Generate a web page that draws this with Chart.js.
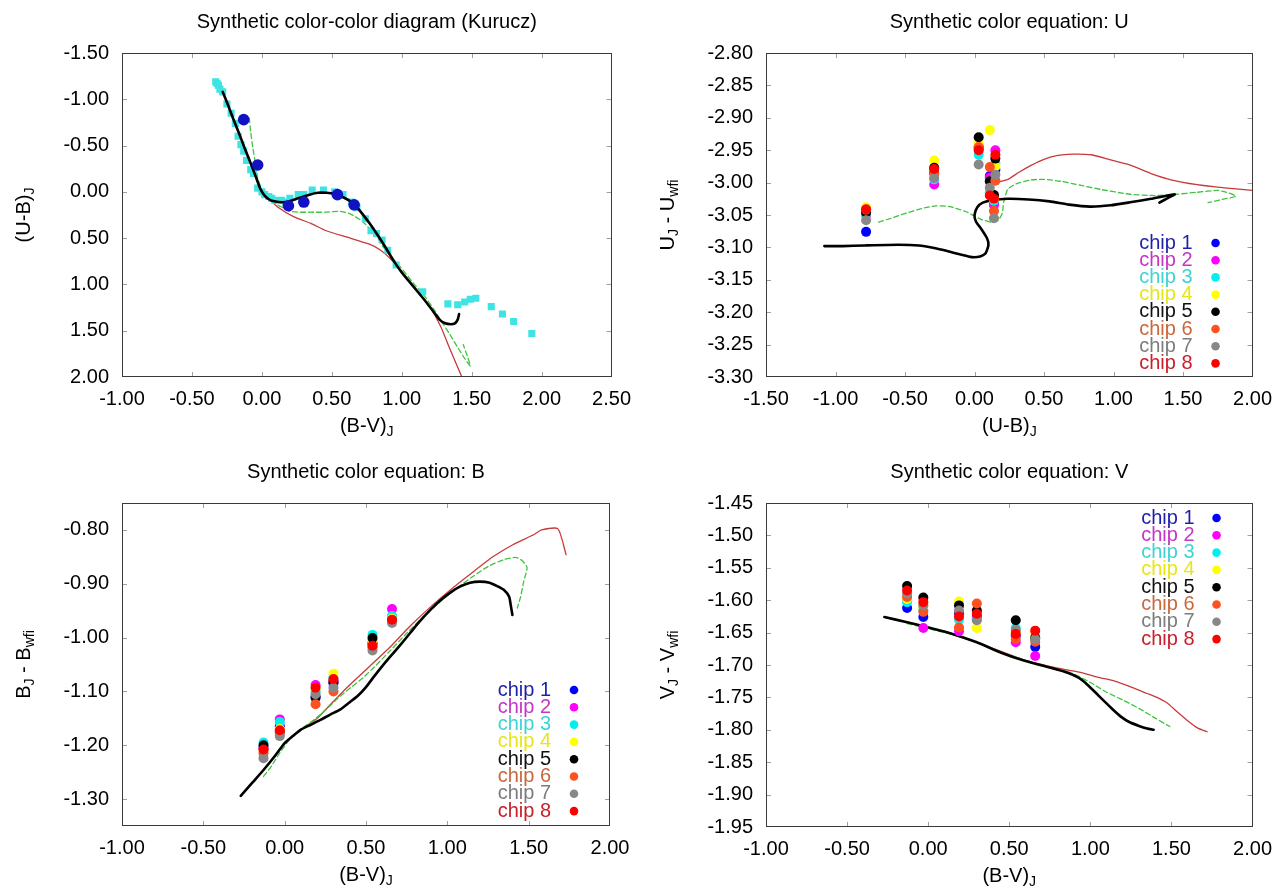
<!DOCTYPE html>
<html><head><meta charset="utf-8">
<script src="https://cdn.jsdelivr.net/npm/chart.js@4.4.1/dist/chart.umd.min.js"></script>
<style>
html,body{margin:0;padding:0;background:#fff;}
body{width:1282px;height:895px;position:relative;overflow:hidden;}
canvas{position:absolute;display:block;}
</style></head><body>
<canvas id="c1" width="641" height="447" style="left:0;top:0"></canvas>
<canvas id="c2" width="641" height="447" style="left:641px;top:0"></canvas>
<canvas id="c3" width="641" height="445" style="left:0;top:450px"></canvas>
<canvas id="c4" width="641" height="445" style="left:641px;top:450px"></canvas>
<script>
// ---------- tick values ----------
const X1_TICKS = [-1.0,-0.5,0.0,0.5,1.0,1.5,2.0,2.5];
const Y1_TICKS = [-1.5,-1.0,-0.5,0.0,0.5,1.0,1.5,2.0];
const X2_TICKS = [-1.5,-1.0,-0.5,0.0,0.5,1.0,1.5,2.0];
const Y2_TICKS = [-3.30,-3.25,-3.20,-3.15,-3.10,-3.05,-3.00,-2.95,-2.90,-2.85,-2.80];
const X3_TICKS = [-1.0,-0.5,0.0,0.5,1.0,1.5,2.0];
const Y3_TICKS = [-1.30,-1.20,-1.10,-1.00,-0.90,-0.80];
const X4_TICKS = [-1.0,-0.5,0.0,0.5,1.0,1.5,2.0];
const Y4_TICKS = [-1.95,-1.90,-1.85,-1.80,-1.75,-1.70,-1.65,-1.60,-1.55,-1.50,-1.45];

// ---------- chips ----------
const CHIP_NAMES = ['chip 1','chip 2','chip 3','chip 4','chip 5','chip 6','chip 7','chip 8'];
const CHIP_COLORS = ['#0000ff','#ff00ff','#00f0f0','#ffff00','#000000','#ff5020','#888888','#ff0000'];
const CHIP_TEXT_COLORS = ['#1f1fa8','#c437c4','#3fd3d3','#e6e619','#111111','#c8683c','#7d7d7d','#c8202c'];

// standard stars
const STD_BV = [-0.13,-0.03,0.19,0.30,0.54,0.66];
const STD_UB = [-0.78,-0.29,0.15,0.11,0.03,0.14];

// U offsets (rows: chip 1..8, columns: standards)
const U_CHIPS = [
  [-3.076,-2.985,-2.980,-2.990,-2.945,-3.030],
  [-3.050,-3.003,-2.950,-2.992,-2.948,-3.035],
  [-3.048,-2.995,-2.970,-3.015,-2.957,-3.028],
  [-3.038,-2.966,-2.975,-2.919,-2.940,-3.025],
  [-3.046,-2.977,-2.963,-2.998,-2.930,-3.019],
  [-3.042,-2.986,-2.997,-2.976,-2.945,-3.044],
  [-3.058,-2.993,-2.988,-3.008,-2.972,-3.055],
  [-3.041,-2.979,-2.957,-3.020,-2.950,-3.025]
];
const B_CHIPS = [
  [-1.205,-1.165,-1.112,-1.085,-1.010,-0.962],
  [-1.208,-1.152,-1.088,-1.080,-1.012,-0.947],
  [-1.195,-1.157,-1.100,-1.075,-0.995,-0.960],
  [-1.210,-1.170,-1.095,-1.067,-1.005,-0.965],
  [-1.200,-1.175,-1.110,-1.082,-1.001,-0.968],
  [-1.215,-1.178,-1.124,-1.100,-1.018,-0.970],
  [-1.224,-1.183,-1.105,-1.093,-1.024,-0.973],
  [-1.208,-1.172,-1.093,-1.077,-1.015,-0.967]
];
const V_CHIPS = [
  [-1.612,-1.626,-1.620,-1.625,-1.655,-1.672],
  [-1.600,-1.643,-1.648,-1.628,-1.665,-1.686],
  [-1.603,-1.615,-1.630,-1.630,-1.643,-1.660],
  [-1.598,-1.610,-1.602,-1.643,-1.650,-1.655],
  [-1.578,-1.596,-1.608,-1.616,-1.631,-1.658],
  [-1.595,-1.618,-1.642,-1.605,-1.660,-1.664],
  [-1.590,-1.608,-1.616,-1.631,-1.646,-1.660],
  [-1.585,-1.603,-1.625,-1.621,-1.652,-1.647]
];

// ---------- panel 1: Kurucz colour-colour ----------
const CYAN_BV = [-0.33,-0.32,-0.31,-0.30,-0.28,-0.25,-0.22,-0.19,-0.17,-0.15,-0.13,-0.11,-0.08,-0.06,-0.03,0.00,0.02,0.05,0.07,0.09,0.14,0.17,0.20,0.26,0.30,0.36,0.44,0.52,0.58,0.64,0.68,0.74,0.78,0.82,0.86,0.90,0.96,1.15,1.33,1.40,1.45,1.49,1.53,1.64,1.72,1.80,1.93];
const CYAN_UB = [-1.19,-1.17,-1.15,-1.11,-1.08,-0.95,-0.85,-0.74,-0.60,-0.51,-0.44,-0.34,-0.24,-0.20,-0.04,0.00,0.03,0.05,0.07,0.09,0.09,0.11,0.07,0.03,0.03,-0.02,-0.02,0.00,0.03,0.11,0.17,0.29,0.42,0.45,0.52,0.63,0.79,1.08,1.21,1.22,1.19,1.16,1.15,1.24,1.32,1.40,1.53];
const K_BLACK_BV = [-0.28,-0.24,-0.20,-0.16,-0.12,-0.08,-0.04,-0.01,0.02,0.05,0.08,0.12,0.17,0.22,0.28,0.34,0.40,0.46,0.52,0.57,0.62,0.67,0.72,0.77,0.82,0.88,0.94,1.00,1.06,1.12,1.18,1.23,1.27,1.31,1.35,1.38,1.40,1.41];
const K_BLACK_UB = [-1.08,-0.93,-0.77,-0.62,-0.46,-0.31,-0.15,-0.03,0.04,0.08,0.10,0.11,0.11,0.09,0.06,0.03,0.01,0.01,0.02,0.05,0.09,0.15,0.24,0.34,0.45,0.59,0.74,0.87,0.98,1.09,1.20,1.30,1.38,1.42,1.43,1.42,1.38,1.32];
const K_RED_BV = [-0.28,-0.16,-0.04,0.00,0.05,0.11,0.23,0.35,0.46,0.61,0.76,0.85,0.93,1.05,1.20,1.28,1.34,1.43,1.46];
const K_RED_UB = [-1.08,-0.62,-0.15,0.00,0.07,0.16,0.27,0.34,0.42,0.49,0.56,0.63,0.74,0.96,1.24,1.46,1.68,2.00,2.10];
const K_GREEN_BV = [-0.09,-0.08,-0.065,-0.045,-0.03,0.00,0.05,0.10,0.15,0.20,0.27,0.35,0.45,0.55,0.62,0.67,0.72,0.76,0.82,0.87,0.93,0.99,1.08,1.17,1.23,1.28,1.34,1.40,1.45,1.49,1.47,1.44];
const K_GREEN_UB = [-0.80,-0.65,-0.48,-0.30,-0.15,-0.02,0.07,0.13,0.17,0.21,0.22,0.22,0.22,0.21,0.23,0.27,0.32,0.38,0.48,0.60,0.71,0.81,0.98,1.14,1.27,1.39,1.53,1.68,1.80,1.88,1.78,1.65];

// ---------- panel 2: U colour equation ----------
const U_BLACK_X = [-1.08,-0.95,-0.79,-0.55,-0.40,-0.29,-0.19,-0.10,-0.02,0.04,0.08,0.10,0.09,0.05,0.01,0.00,0.02,0.06,0.13,0.24,0.39,0.54,0.68,0.83,0.98,1.13,1.27,1.44,1.38,1.33];
const U_BLACK_Y = [-3.098,-3.098,-3.097,-3.096,-3.097,-3.101,-3.106,-3.111,-3.115,-3.114,-3.109,-3.096,-3.086,-3.072,-3.060,-3.050,-3.038,-3.031,-3.027,-3.025,-3.026,-3.029,-3.034,-3.037,-3.035,-3.030,-3.025,-3.018,-3.025,-3.031];
const U_RED_X = [0.15,0.24,0.32,0.41,0.50,0.60,0.70,0.84,0.98,1.12,1.27,1.42,1.60,1.80,2.00,2.05];
const U_RED_Y = [-3.000,-2.995,-2.984,-2.973,-2.964,-2.958,-2.956,-2.957,-2.965,-2.973,-2.986,-2.996,-3.003,-3.008,-3.012,-3.013];
const U_GREEN_X = [-0.69,-0.60,-0.49,-0.38,-0.28,-0.18,-0.06,0.04,0.12,0.17,0.20,0.21,0.24,0.30,0.40,0.50,0.62,0.76,0.92,1.12,1.30,1.45,1.60,1.75,1.83,1.88,1.78,1.68];
const U_GREEN_Y = [-3.061,-3.055,-3.047,-3.040,-3.036,-3.037,-3.045,-3.056,-3.061,-3.058,-3.047,-3.030,-3.010,-3.002,-2.996,-2.995,-2.998,-3.004,-3.011,-3.018,-3.020,-3.018,-3.015,-3.012,-3.016,-3.021,-3.026,-3.031];

// ---------- panel 3: B colour equation ----------
const B_BLACK_X = [-0.27,-0.20,-0.13,-0.06,0.00,0.05,0.10,0.16,0.22,0.28,0.34,0.40,0.45,0.50,0.55,0.60,0.65,0.71,0.77,0.83,0.90,0.96,1.02,1.08,1.14,1.20,1.26,1.31,1.35,1.38,1.39,1.40];
const B_BLACK_Y = [-1.294,-1.270,-1.246,-1.220,-1.196,-1.183,-1.171,-1.162,-1.153,-1.143,-1.134,-1.120,-1.108,-1.092,-1.072,-1.053,-1.035,-1.014,-0.992,-0.970,-0.947,-0.930,-0.916,-0.905,-0.898,-0.896,-0.898,-0.905,-0.912,-0.924,-0.940,-0.958];
const B_RED_X = [-0.27,-0.13,0.00,0.10,0.20,0.27,0.39,0.52,0.65,0.77,0.90,1.02,1.15,1.28,1.40,1.53,1.58,1.68,1.73];
const B_RED_Y = [-1.294,-1.246,-1.196,-1.171,-1.150,-1.128,-1.091,-1.054,-1.017,-0.979,-0.942,-0.911,-0.880,-0.850,-0.828,-0.809,-0.800,-0.798,-0.846];
const B_GREEN_X = [-0.13,-0.08,-0.03,0.03,0.10,0.17,0.25,0.33,0.41,0.48,0.55,0.65,0.75,0.85,0.95,1.05,1.15,1.25,1.35,1.42,1.46,1.49,1.47,1.45,1.43];
const B_GREEN_Y = [-1.258,-1.238,-1.214,-1.190,-1.170,-1.155,-1.135,-1.112,-1.092,-1.075,-1.055,-1.024,-0.992,-0.962,-0.935,-0.910,-0.888,-0.868,-0.855,-0.851,-0.857,-0.870,-0.895,-0.925,-0.945];

// ---------- panel 4: V colour equation ----------
const V_BLACK_X = [-0.27,-0.13,0.00,0.15,0.30,0.45,0.60,0.75,0.86,0.93,0.98,1.03,1.09,1.14,1.19,1.24,1.30,1.35,1.39];
const V_BLACK_Y = [-1.626,-1.634,-1.642,-1.652,-1.665,-1.681,-1.694,-1.704,-1.712,-1.720,-1.730,-1.742,-1.757,-1.769,-1.780,-1.788,-1.794,-1.798,-1.800];
const V_GREEN_X = [-0.13,0.00,0.15,0.30,0.45,0.60,0.75,0.88,1.00,1.10,1.20,1.30,1.40,1.49];
const V_GREEN_Y = [-1.636,-1.644,-1.653,-1.665,-1.680,-1.693,-1.703,-1.712,-1.727,-1.742,-1.754,-1.767,-1.782,-1.795];
const V_RED_X = [-0.27,0.00,0.30,0.60,0.80,0.95,1.05,1.15,1.26,1.35,1.41,1.47,1.53,1.60,1.66,1.72];
const V_RED_Y = [-1.626,-1.642,-1.665,-1.693,-1.705,-1.712,-1.719,-1.725,-1.735,-1.744,-1.750,-1.758,-1.771,-1.786,-1.797,-1.803];

// ---------- helpers ----------
const FONT = "'Liberation Sans', Arial, Helvetica, sans-serif";
const RED_LINE = '#c83a3a', GREEN_LINE = '#3fc43f';
const pts = (xs, ys) => xs.map((x, i) => ({x: x, y: ys[i]}));

function lineSet(xs, ys, color, width, dash, order) {
  return {data: pts(xs, ys), showLine: true, borderColor: color, borderWidth: width,
    borderDash: dash || [], pointRadius: 0, pointHoverRadius: 0, tension: 0.2, fill: false, order: order,
    borderCapStyle: 'round', borderJoinStyle: 'round'};
}
function chipSets(xs, rows) {
  return rows.map((ys, i) => ({data: pts(xs, ys), backgroundColor: CHIP_COLORS[i], borderWidth: 0,
    pointRadius: 5, pointHoverRadius: 5, showLine: false, order: 12 - i}));
}
function drawRich(ctx, parts, cx, cy, size, subSize, subDrop) {
  let w = 0;
  const ms = parts.map(p => { ctx.font = (p[1] ? subSize : size) + 'px ' + FONT; const m = ctx.measureText(p[0]).width; w += m; return m; });
  let x = cx - w / 2;
  ctx.textAlign = 'left'; ctx.textBaseline = 'middle';
  parts.forEach((p, i) => { ctx.font = (p[1] ? subSize : size) + 'px ' + FONT; ctx.fillText(p[0], x, cy + (p[1] ? subDrop : 0)); x += ms[i]; });
}

const decor = {
  id: 'decor',
  afterDraw(chart, args, o) {
    const ctx = chart.ctx, a = chart.chartArea, xs = chart.scales.x, ys = chart.scales.y;
    ctx.save();
    ctx.lineWidth = 1; ctx.strokeStyle = '#a0a0a0';
    ctx.beginPath();
    xs.ticks.forEach(t => { const p = Math.round(xs.getPixelForValue(t.value)) + 0.5;
      if (p <= a.left + 2 || p >= a.right - 2) return;
      ctx.moveTo(p, a.bottom); ctx.lineTo(p, a.bottom - 5); ctx.moveTo(p, a.top); ctx.lineTo(p, a.top + 5); });
    ys.ticks.forEach(t => { const p = Math.round(ys.getPixelForValue(t.value)) + 0.5;
      if (p <= a.top + 2 || p >= a.bottom - 2) return;
      ctx.moveTo(a.left, p); ctx.lineTo(a.left + 5, p); ctx.moveTo(a.right, p); ctx.lineTo(a.right - 5, p); });
    ctx.stroke();
    ctx.strokeStyle = '#3a3a3a';
    ctx.strokeRect(Math.round(a.left) + 0.5, Math.round(a.top) + 0.5, Math.round(a.width) - 1, Math.round(a.height) - 1);
    ctx.fillStyle = '#000';
    drawRich(ctx, [[o.title, 0]], (a.left + a.right) / 2, 22, 20, 14, 0);
    drawRich(ctx, o.xTitle, (a.left + a.right) / 2, a.bottom + 49, 20, 14, 6);
    ctx.save(); ctx.translate(a.left - 98, (a.top + a.bottom) / 2); ctx.rotate(-Math.PI / 2);
    drawRich(ctx, o.yTitle, 0, 0, 20, 14, 6); ctx.restore();
    if (o.legend) {
      const L = o.legend;
      ctx.font = '20px ' + FONT; ctx.textAlign = 'right'; ctx.textBaseline = 'middle';
      CHIP_NAMES.forEach((n, i) => {
        const y = (L.fromTop ? a.top : a.bottom) + L.dy0 + i * L.step;
        ctx.fillStyle = CHIP_TEXT_COLORS[i];
        ctx.fillText(n, a.right + L.textRight, y);
        ctx.fillStyle = CHIP_COLORS[i];
        ctx.beginPath(); ctx.arc(a.right + L.dot, y, 4.3, 0, Math.PI * 2); ctx.fill();
      });
    }
    ctx.restore();
  }
};

function axis(min, max, ticks, fitKey, fitVal, reverse, pad) {
  return {type: 'linear', min: min, max: max, reverse: !!reverse,
    afterBuildTicks: s => { s.ticks = ticks.map(v => ({value: v})); },
    afterFit: s => { s[fitKey] = fitVal; },
    ticks: {autoSkip: false, maxRotation: 0, minRotation: 0, padding: pad, color: '#000',
      font: {family: FONT, size: 20}, callback: v => Number(v).toFixed(2)},
    grid: {display: false, drawTicks: false}, border: {display: false}};
}

function make(id, datasets, sc, pad, deco) {
  return new Chart(document.getElementById(id), {
    type: 'scatter',
    data: {datasets: datasets},
    options: {
      responsive: false, animation: false, devicePixelRatio: 1, events: [],
      layout: {padding: {left: 0, right: pad.right, top: 53, bottom: 0}},
      plugins: {legend: {display: false}, tooltip: {enabled: false}, decor: deco},
      scales: {
        x: axis(sc.xmin, sc.xmax, sc.xt, 'height', pad.xh, false, 10),
        y: axis(sc.ymin, sc.ymax, sc.yt, 'width', pad.yw, sc.rev, 13)
      }
    },
    plugins: [decor]
  });
}

// Panel 1
make('c1', [
  {data: pts(STD_BV, STD_UB), backgroundColor: '#1212c4', borderWidth: 0, pointRadius: 5.8, order: 0},
  lineSet(K_BLACK_BV, K_BLACK_UB, '#000', 2.6, null, 1),
  {data: pts(CYAN_BV, CYAN_UB), backgroundColor: '#3fe3e3', borderWidth: 0, pointStyle: 'rect', pointRadius: 5, order: 2},
  lineSet(K_GREEN_BV, K_GREEN_UB, GREEN_LINE, 1.3, [5, 3], 3),
  lineSet(K_RED_BV, K_RED_UB, RED_LINE, 1.3, null, 4)
], {xmin: -1, xmax: 2.5, xt: X1_TICKS, ymin: -1.5, ymax: 2.0, yt: Y1_TICKS, rev: true},
  {right: 29, xh: 70, yw: 122},
  {title: 'Synthetic color-color diagram (Kurucz)', xTitle: [['(B-V)', 0], ['J', 1]], yTitle: [['(U-B)', 0], ['J', 1]]});

// Panel 2
make('c2', [
  ...chipSets(STD_UB, U_CHIPS),
  lineSet(U_BLACK_X, U_BLACK_Y, '#000', 2.6, null, 20),
  lineSet(U_GREEN_X, U_GREEN_Y, GREEN_LINE, 1.3, [5, 3], 21),
  lineSet(U_RED_X, U_RED_Y, RED_LINE, 1.3, null, 22)
], {xmin: -1.5, xmax: 2.0, xt: X2_TICKS, ymin: -3.30, ymax: -2.80, yt: Y2_TICKS},
  {right: 26, xh: 70, yw: 125},
  {title: 'Synthetic color equation: U', xTitle: [['(U-B)', 0], ['J', 1]],
   yTitle: [['U', 0], ['J', 1], [' - U', 0], ['wfi', 1]],
   legend: {fromTop: false, dy0: -134, step: 17.2, textRight: -60, dot: -37}});

// Panel 3
make('c3', [
  ...chipSets(STD_BV, B_CHIPS),
  lineSet(B_BLACK_X, B_BLACK_Y, '#000', 2.6, null, 20),
  lineSet(B_GREEN_X, B_GREEN_Y, GREEN_LINE, 1.3, [5, 3], 21),
  lineSet(B_RED_X, B_RED_Y, RED_LINE, 1.3, null, 22)
], {xmin: -1, xmax: 2.0, xt: X3_TICKS, ymin: -1.35, ymax: -0.75, yt: Y3_TICKS},
  {right: 31, xh: 69, yw: 122},
  {title: 'Synthetic color equation: B', xTitle: [['(B-V)', 0], ['J', 1]],
   yTitle: [['B', 0], ['J', 1], [' - B', 0], ['wfi', 1]],
   legend: {fromTop: false, dy0: -136, step: 17.3, textRight: -59, dot: -36}});

// Panel 4
make('c4', [
  ...chipSets(STD_BV, V_CHIPS),
  lineSet(V_BLACK_X, V_BLACK_Y, '#000', 2.6, null, 20),
  lineSet(V_GREEN_X, V_GREEN_Y, GREEN_LINE, 1.3, [5, 3], 21),
  lineSet(V_RED_X, V_RED_Y, RED_LINE, 1.3, null, 22)
], {xmin: -1, xmax: 2.0, xt: X4_TICKS, ymin: -1.95, ymax: -1.45, yt: Y4_TICKS},
  {right: 28, xh: 68, yw: 125},
  {title: 'Synthetic color equation: V', xTitle: [['(B-V)', 0], ['J', 1]],
   yTitle: [['V', 0], ['J', 1], [' - V', 0], ['wfi', 1]],
   legend: {fromTop: true, dy0: 15, step: 17.3, textRight: -58, dot: -36}});
</script>
</body></html>
